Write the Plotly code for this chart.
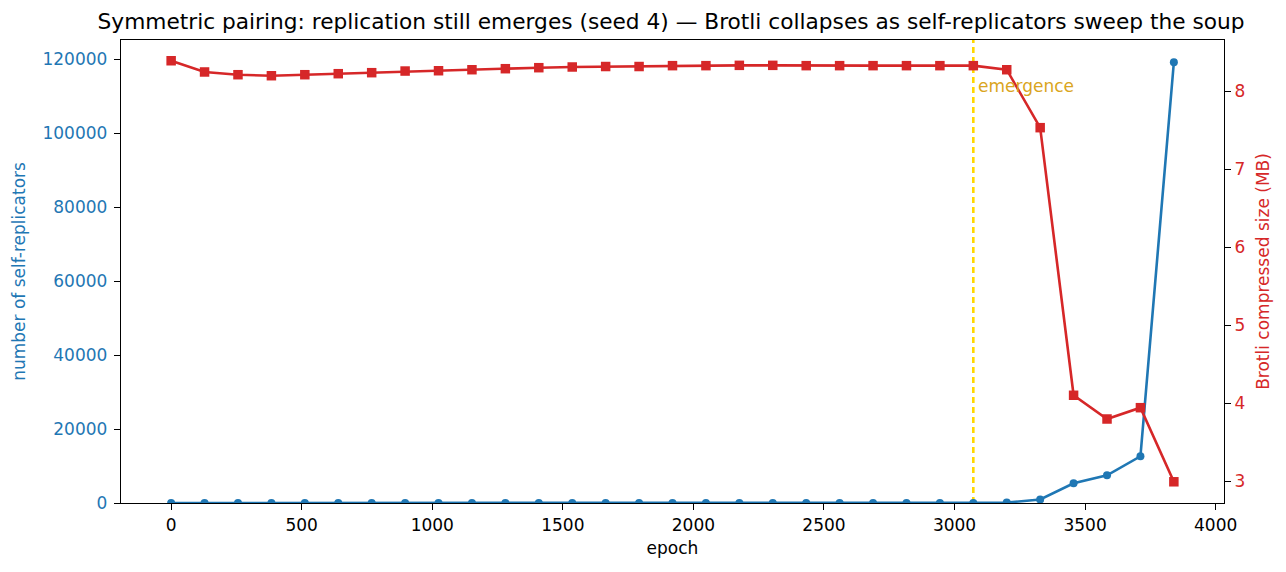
import plotly.graph_objects as go

epochs = [0, 128, 256, 384, 512, 640, 768, 896, 1024, 1152, 1280, 1408, 1536, 1664,
          1792, 1920, 2048, 2176, 2304, 2432, 2560, 2688, 2816, 2944, 3072, 3200,
          3328, 3456, 3584, 3712, 3840]
replicators = [0, 0, 0, 0, 0, 0, 0, 0, 0, 0, 0, 0, 0, 0,
               0, 0, 0, 0, 0, 0, 0, 0, 0, 0, 0, 120,
               950, 5330, 7490, 12630, 119200]
brotli_mb = [8.388, 8.244, 8.209, 8.196, 8.209, 8.222, 8.235, 8.256, 8.260, 8.273,
             8.286, 8.299, 8.308, 8.314, 8.314, 8.325, 8.325, 8.329, 8.329, 8.325,
             8.325, 8.325, 8.325, 8.325, 8.325, 8.273, 7.53, 4.099, 3.795, 3.94, 2.99]
EMERGENCE_EPOCH = 3072

BLUE = "#1f77b4"
RED = "#d62728"
FONT = "DejaVu Sans"
TICK = 17

fig = go.Figure()
fig.add_trace(go.Scatter(x=epochs, y=replicators, mode="lines+markers",
                         line=dict(color=BLUE, width=2.6),
                         marker=dict(symbol="circle", size=8, color=BLUE),
                         yaxis="y", showlegend=False))
fig.add_trace(go.Scatter(x=epochs, y=brotli_mb, mode="lines+markers",
                         line=dict(color=RED, width=2.6),
                         marker=dict(symbol="square", size=9.5, color=RED),
                         yaxis="y2", showlegend=False))

fig.add_shape(type="line", x0=EMERGENCE_EPOCH, x1=EMERGENCE_EPOCH, xref="x",
              y0=0, y1=1, yref="paper", layer="below",
              line=dict(color="#FFD700", width=2.6, dash="6px,4px"))
fig.add_annotation(x=EMERGENCE_EPOCH, xref="x", y=0.9, yref="paper",
                   text="emergence", showarrow=False, xanchor="left", yanchor="middle",
                   xshift=3, font=dict(family=FONT, size=TICK, color="#DAA520"))

axis_common = dict(showline=True, linecolor="black", linewidth=1.4, ticks="outside",
                   ticklen=6, tickwidth=1.4, tickcolor="black", showgrid=False,
                   zeroline=False)

fig.update_layout(
    width=1286, height=572,
    margin=dict(l=121, r=62, t=40, b=69),
    paper_bgcolor="white", plot_bgcolor="white",
    font=dict(family=FONT, size=TICK, color="black"),
    title=dict(text="Symmetric pairing: replication still emerges (seed 4) — Brotli collapses as self-replicators sweep the soup",
               x=0.5218, xanchor="center", y=0.962, yanchor="middle",
               font=dict(family=FONT, size=21.7, color="black")),
    xaxis=dict(**axis_common, mirror=True, range=[-192, 4032],
               tickvals=[0, 500, 1000, 1500, 2000, 2500, 3000, 3500, 4000],
               title=dict(text="epoch", font=dict(size=TICK), standoff=8),
               tickfont=dict(size=TICK)),
    yaxis=dict(**axis_common, range=[0, 125220],
               tickvals=[0, 20000, 40000, 60000, 80000, 100000, 120000],
               tickformat="d", ticklabelstandoff=3,
               tickfont=dict(size=TICK, color=BLUE),
               title=dict(text="number of self-replicators", font=dict(size=TICK, color=BLUE), standoff=12)),
    yaxis2=dict(**axis_common, overlaying="y", side="right", range=[2.718, 8.654],
                tickvals=[3, 4, 5, 6, 7, 8],
                tickfont=dict(size=TICK, color=RED),
                title=dict(text="Brotli compressed size (MB)", font=dict(size=TICK, color=RED), standoff=12)),
)

fig.write_html("out.html")
